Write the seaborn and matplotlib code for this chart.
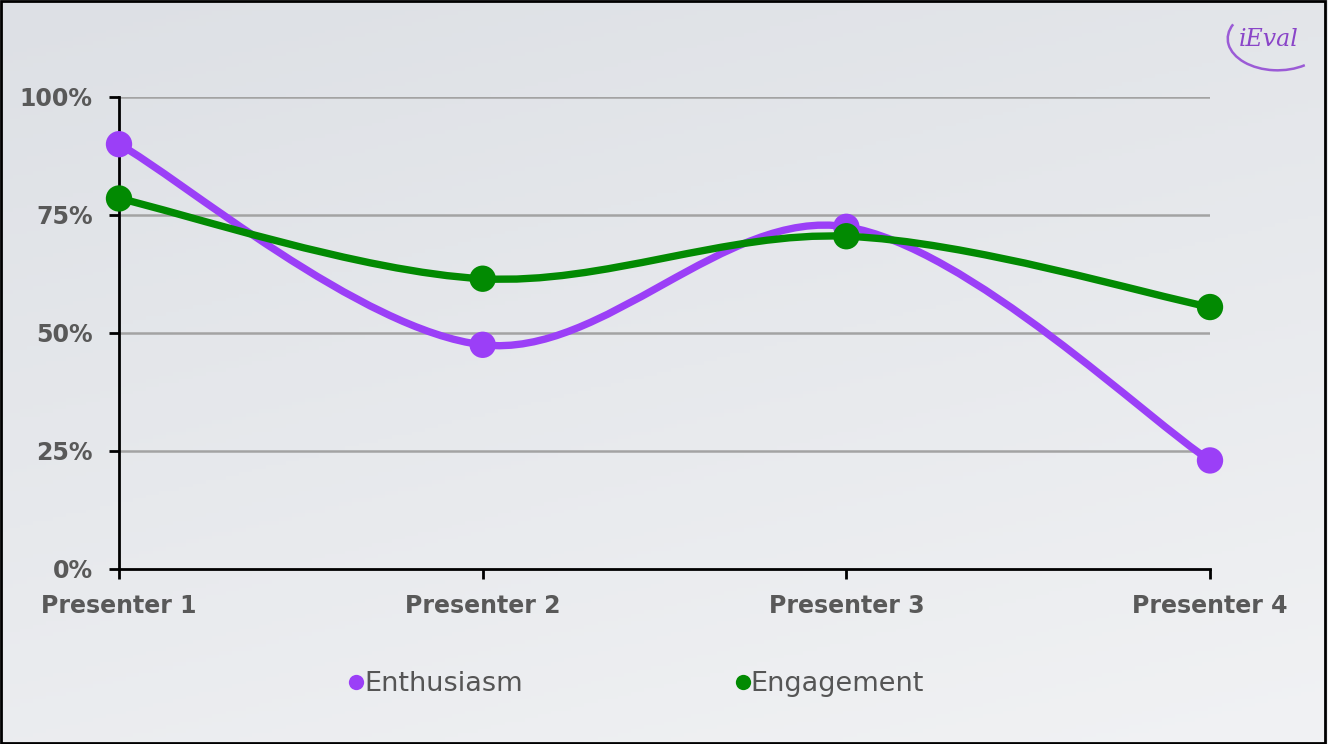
import numpy as np
import pandas as pd
import matplotlib
matplotlib.use("Agg")
import matplotlib.pyplot as plt
import seaborn as sns
from matplotlib.path import Path
from matplotlib.patches import PathPatch, Rectangle, Arc
from matplotlib.lines import Line2D

# data
presenters = ["Presenter 1", "Presenter 2", "Presenter 3", "Presenter 4"]
enthusiasm = [0.90, 0.475, 0.725, 0.23]
engagement = [0.785, 0.615, 0.705, 0.555]
y_ticks = [0, 0.25, 0.5, 0.75, 1.0]
y_labels = ["0%", "25%", "50%", "75%", "100%"]

series_names = ["Enthusiasm", "Engagement"]
colors = {"Enthusiasm": "#9b3ff7", "Engagement": "#028a02"}

df = pd.DataFrame({
    "x": list(range(len(presenters))) * 2,
    "value": enthusiasm + engagement,
    "series": ["Enthusiasm"] * len(enthusiasm) + ["Engagement"] * len(engagement),
})

sns.set_style("white")
plt.rcParams["font.family"] = ["DejaVu Sans"]

fig = plt.figure(figsize=(13.28, 7.44), dpi=100)

# background gradient
bg = fig.add_axes([0, 0, 1, 1], zorder=-10)
yy, xx = np.mgrid[0:1:200j, 0:1:200j]
grad = 0.3 * xx + 0.7 * yy
bg.imshow(grad, cmap=matplotlib.colors.LinearSegmentedColormap.from_list(
    "bg", ["#dde0e5", "#f1f2f4"]), aspect="auto", extent=[0, 1, 0, 1], origin="upper")
bg.set_axis_off()
bg.add_patch(Rectangle((0.001, 0.002), 0.997, 0.996, fill=False, edgecolor="black",
                       linewidth=2, transform=bg.transAxes))

ax = fig.add_axes([119 / 1328, 1 - 569 / 744, (1210 - 119) / 1328, (569 - 97) / 744])
ax.set_facecolor("none")


def smooth_path(xs, ys):
    # cubic Bezier segments through the points (Catmull-Rom style control points)
    pts = np.column_stack([xs, ys]).astype(float)
    n = len(pts)
    verts = [pts[0]]
    codes = [Path.MOVETO]
    for i in range(n - 1):
        p0 = pts[max(i - 1, 0)]
        p1 = pts[i]
        p2 = pts[i + 1]
        p3 = pts[min(i + 2, n - 1)]
        c1 = p1 + (p2 - p0) / 6
        c2 = p2 - (p3 - p1) / 6
        verts += [c1, c2, p2]
        codes += [Path.CURVE4] * 3
    return Path(verts, codes)


for name, vals in zip(series_names, [enthusiasm, engagement]):
    path = smooth_path(range(len(vals)), vals)
    ax.add_patch(PathPatch(path, facecolor="none", edgecolor=colors[name],
                           linewidth=5.3, capstyle="round", zorder=3))

sns.scatterplot(data=df, x="x", y="value", hue="series", palette=colors, s=360,
                edgecolor="none", legend=False, ax=ax, zorder=4, clip_on=False)

ax.set_xlim(0, 3)
ax.set_ylim(0, 1)
ax.set_xticks(range(len(presenters)))
ax.set_xticklabels(presenters)
ax.set_yticks(y_ticks)
ax.set_yticklabels(y_labels)
ax.set_xlabel("")
ax.set_ylabel("")

for v in y_ticks[1:]:
    ax.axhline(v, color="#a3a3a3", linewidth=1.8, zorder=1)

for side in ["top", "right"]:
    ax.spines[side].set_visible(False)
for side in ["left", "bottom"]:
    ax.spines[side].set_color("black")
    ax.spines[side].set_linewidth(2)
    ax.spines[side].set_zorder(2)

ax.tick_params(axis="y", left=True, direction="out", length=7, width=2, color="black",
               pad=12, labelsize=17, labelcolor="#595959")
ax.tick_params(axis="x", bottom=True, direction="out", length=7, width=2, color="black",
               pad=11, labelsize=17, labelcolor="#595959")
for lab in ax.get_xticklabels() + ax.get_yticklabels():
    lab.set_fontweight("bold")

handles = [Line2D([], [], linestyle="none", marker="o", markersize=11,
                  markerfacecolor=colors[n], markeredgecolor="none", label=n)
           for n in series_names]
fig.legend(handles=handles, loc="center", bbox_to_anchor=(0.477, 0.08), ncol=2,
           frameon=False, handletextpad=-0.2, columnspacing=7.6, handlelength=1.0,
           prop={"size": 19.5}, labelcolor="#555555")

# logo
fig.text(0.955, 0.947, "iEval", color="#8a45c8", fontsize=17, style="italic",
         family="DejaVu Serif", ha="center", va="center")
bg.add_patch(Arc((0.962, 0.948), 0.075, 0.085, theta1=150, theta2=300,
                 color="#9b5bd6", linewidth=1.8, transform=bg.transAxes))

fig.savefig("out.png", dpi=100)
